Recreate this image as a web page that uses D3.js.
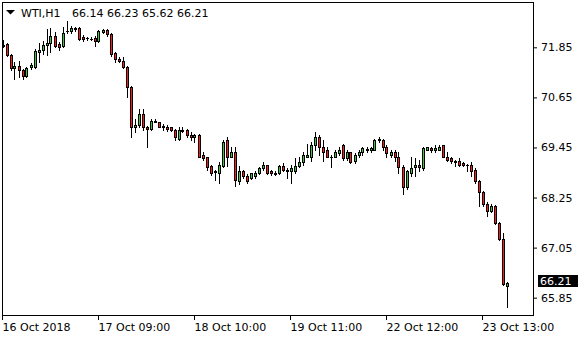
<!DOCTYPE html>
<html>
<head>
  <script src="https://d3js.org/d3.v7.min.js"></script>
  <style>
    body {
  margin: 0;
  background-color: #ffffff;
}

svg {
  display: block;
  font-family: 'DejaVu Sans', Verdana, sans-serif;
  font-size: 11px;
}

.axis text {
  fill: #000000;
}

.axis line {
  stroke: #000000;
}
  </style>
</head>
<body>

<script>
// WTI hourly candles, 16 Oct 2018 .. 23 Oct 2018.
const open = [71.89,71.93,71.67,71.36,71.40,71.31,71.17,71.38,71.38,71.74,
71.79,71.90,71.95,72.12,71.93,71.88,72.24,72.24,72.29,72.31,
72.10,72.07,72.06,72.07,72.00,72.21,72.26,72.17,71.71,71.57,
71.52,71.38,70.90,69.93,70.00,70.26,69.95,69.90,70.09,70.05,
69.97,69.95,69.93,69.88,69.66,69.85,69.88,69.76,69.71,69.76,
69.28,69.21,69.00,68.88,68.85,69.00,69.62,69.23,69.35,68.64,
68.88,68.76,68.73,68.76,68.85,68.95,69.02,68.88,68.85,68.83,
69.00,68.90,68.88,68.88,69.00,69.09,69.23,69.23,69.50,69.71,
69.47,69.40,69.23,69.23,69.31,69.50,69.19,69.33,69.12,69.26,
69.35,69.38,69.40,69.40,69.62,69.64,69.47,69.26,69.35,69.21,
68.97,68.50,68.85,68.97,69.04,68.95,69.40,69.43,69.38,69.40,
69.50,69.23,69.19,69.12,69.12,69.07,69.04,69.04,68.92,68.64,
68.38,68.09,67.92,68.04,67.64,67.26,66.14];

const high = [72.02,71.95,71.69,71.50,71.52,71.33,71.38,71.48,71.81,71.95,
72.00,72.29,72.31,72.21,71.98,72.33,72.48,72.36,72.33,72.33,
72.14,72.10,72.09,72.12,72.26,72.29,72.29,72.19,71.74,71.62,
71.62,71.40,70.93,70.12,70.36,70.36,69.97,70.14,70.14,70.07,
70.02,70.00,69.95,69.90,69.93,69.93,69.90,69.81,69.78,69.78,
69.33,69.23,69.04,68.90,69.09,69.62,69.71,69.47,69.45,69.00,
68.90,68.81,68.85,68.88,68.97,69.09,69.04,68.90,68.88,69.02,
69.07,68.95,69.04,69.19,69.23,69.33,69.54,69.57,69.81,69.74,
69.64,69.45,69.26,69.40,69.45,69.54,69.40,69.35,69.31,69.38,
69.45,69.45,69.45,69.66,69.69,69.66,69.52,69.40,69.38,69.35,
69.04,68.92,69.23,69.19,69.16,69.47,69.47,69.45,69.50,69.50,
69.52,69.33,69.21,69.14,69.19,69.09,69.05,69.09,68.95,68.66,
68.40,68.14,68.09,68.07,67.66,67.40,66.23];

const low = [71.86,71.64,71.31,71.09,71.14,71.09,71.14,71.33,71.36,71.50,
71.69,71.67,71.74,71.86,71.79,71.86,72.19,72.19,72.24,72.02,
72.00,72.02,72.03,71.88,71.98,72.19,72.12,71.64,71.50,71.50,
71.36,70.67,69.69,69.83,69.93,69.88,69.47,69.88,70.05,69.93,
69.88,69.85,69.85,69.64,69.64,69.81,69.71,69.64,69.59,69.21,
69.14,68.92,68.78,68.66,68.61,68.97,69.00,69.21,68.52,68.57,
68.73,68.61,68.69,68.73,68.81,68.92,68.81,68.78,68.78,68.81,
68.88,68.73,68.61,68.85,68.97,69.04,69.21,69.12,69.40,69.26,
69.12,69.21,68.97,69.21,69.26,69.16,69.14,69.07,69.07,69.23,
69.28,69.35,69.35,69.38,69.59,69.40,69.23,69.21,69.12,68.83,
68.33,68.45,68.76,68.76,68.88,68.92,69.38,69.33,69.35,69.38,
69.21,69.12,69.07,69.00,69.00,69.00,68.88,68.76,68.59,68.04,
68.04,67.80,67.90,67.61,67.23,66.16,65.62];

const close = [71.90,71.67,71.36,71.40,71.31,71.17,71.36,71.43,71.76,71.79,
71.90,71.95,72.12,71.88,71.86,72.19,72.23,72.31,72.31,72.05,
72.05,72.07,72.06,72.00,72.24,72.26,72.17,71.69,71.57,71.52,
71.38,70.90,69.95,70.00,70.24,69.95,69.90,70.09,70.07,69.95,
69.95,69.90,69.88,69.69,69.88,69.88,69.74,69.69,69.76,69.23,
69.19,68.97,68.83,68.86,69.02,69.59,69.23,69.35,68.66,68.88,
68.76,68.64,68.83,68.85,68.95,69.02,68.85,68.83,68.81,69.00,
68.90,68.89,68.95,69.00,69.09,69.26,69.28,69.52,69.71,69.47,
69.35,69.23,69.22,69.35,69.38,69.19,69.35,69.09,69.26,69.35,
69.43,69.41,69.43,69.64,69.66,69.47,69.31,69.33,69.23,68.97,
68.50,68.88,68.95,69.04,68.97,69.43,69.45,69.38,69.43,69.47,
69.23,69.14,69.12,69.09,69.02,69.02,69.03,68.88,68.64,68.38,
68.09,67.92,68.04,67.64,67.26,66.18,66.21];

// Price grid and time labels.
const priceTicks = [71.85, 70.65, 69.45, 68.25, 67.05, 65.85];
const timeTickBars = [0, 24, 48, 72, 96, 120];
const timeLabels = ["16 Oct 2018", "17 Oct 09:00", "18 Oct 10:00", "19 Oct 11:00", "22 Oct 12:00", "23 Oct 13:00"];

const symbol = "WTI,H1";

const width = 580;
const height = 340;
const frameLeft = 2, frameTop = 2, frameRight = 533, frameBottom = 315;

const candles = open.map((o, i) => ({ i, o, h: high[i], l: low[i], c: close[i] }));
const last = candles[candles.length - 1];

const x = d3.scaleLinear()
  .domain([0, 132.5])
  .range([3, 533]);

const y = d3.scaleLinear()
  .domain([65.85, 71.85])
  .range([297.7, 47.3]);

const svg = d3.select("body")
  .append("svg")
  .attr("width", width)
  .attr("height", height);

// Candles
const g = svg.append("g").attr("shape-rendering", "crispEdges");

const bars = g.selectAll(".candle")
  .data(candles)
  .enter()
  .append("g")
  .attr("class", "candle");

bars.append("line")
  .attr("x1", d => Math.floor(x(d.i)) + 0.5)
  .attr("x2", d => Math.floor(x(d.i)) + 0.5)
  .attr("y1", d => Math.round(y(d.h)))
  .attr("y2", d => Math.round(y(d.l)) + 1)
  .attr("stroke", "#000");

bars.each(function(d) {
  const cx = Math.floor(x(d.i));
  const t = Math.round(y(Math.max(d.o, d.c)));
  const b = Math.round(y(Math.min(d.o, d.c)));
  const sel = d3.select(this);
  // black body outline, 3px wide
  sel.append("rect")
    .attr("x", cx - 1)
    .attr("y", t)
    .attr("width", 3)
    .attr("height", Math.max(1, b - t + 1))
    .attr("fill", "#000");
  // coloured core
  if (b - t >= 2) {
    sel.append("rect")
      .attr("x", cx)
      .attr("y", t + 1)
      .attr("width", 1)
      .attr("height", b - t - 1)
      .attr("fill", d.c >= d.o ? "#3cc83c" : "#ff1a1a");
  }
});

// Frame
svg.append("rect")
  .attr("x", frameLeft + 0.5)
  .attr("y", frameTop + 0.5)
  .attr("width", frameRight - frameLeft)
  .attr("height", frameBottom - frameTop)
  .attr("fill", "none")
  .attr("stroke", "#000")
  .attr("shape-rendering", "crispEdges");

// Price axis
const yAxis = svg.append("g")
  .attr("class", "axis")
  .attr("transform", `translate(${frameRight + 1},0)`)
  .call(d3.axisRight(y)
    .tickValues(priceTicks)
    .tickSize(3)
    .tickPadding(4)
    .tickFormat(d3.format(".2f")));
yAxis.select(".domain").remove();
yAxis.selectAll("text").attr("font-size", 11).attr("font-family", "'DejaVu Sans', sans-serif");

// Time axis
const xAxis = svg.append("g")
  .attr("class", "axis")
  .attr("transform", `translate(-1,${frameBottom + 1})`)
  .call(d3.axisBottom(x)
    .tickValues(timeTickBars)
    .tickSize(4)
    .tickPadding(3)
    .tickFormat((d, i) => timeLabels[i]));
xAxis.select(".domain").remove();
xAxis.selectAll("text")
  .attr("text-anchor", "start")
  .attr("font-size", 11)
  .attr("font-family", "'DejaVu Sans', sans-serif");

// Last price marker
const ly = y(last.c);
svg.append("rect")
  .attr("x", frameRight + 5)
  .attr("y", Math.round(ly) - 8)
  .attr("width", 40)
  .attr("height", 12)
  .attr("fill", "#000");
svg.append("text")
  .attr("x", frameRight + 7)
  .attr("y", Math.round(ly) + 2)
  .attr("fill", "#fff")
  .text(d3.format(".2f")(last.c));

// Header
svg.append("path")
  .attr("d", "M6,10 L15,10 L10.5,14.5 Z")
  .attr("fill", "#000");
svg.append("text")
  .attr("x", 21)
  .attr("y", 17)
  .text(symbol);
svg.append("text")
  .attr("x", 72)
  .attr("y", 17)
  .attr("xml:space", "preserve")
  .text([last.o, last.h, last.l, last.c].map(d3.format(".2f")).join(" "));
</script>
</body>
</html>
